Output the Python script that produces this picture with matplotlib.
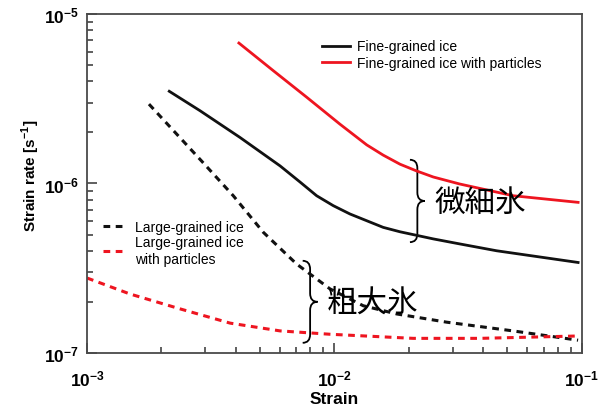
import numpy as np
import matplotlib.pyplot as plt
from matplotlib.path import Path
from matplotlib.patches import PathPatch
from matplotlib.ticker import FuncFormatter, NullFormatter, LogLocator

plt.rcParams['font.family'] = ['Liberation Sans', 'DejaVu Sans']
plt.rcParams['mathtext.fontset'] = 'custom'
plt.rcParams['mathtext.rm'] = 'Liberation Sans'
plt.rcParams['mathtext.bf'] = 'Liberation Sans:bold'

# strain vs. strain rate
fine_x = [2.15e-3, 2.86e-3, 4.15e-3, 6.03e-3, 7.26e-3, 8.47e-3, 9.89e-3, 1.155e-2, 1.35e-2,
          1.574e-2, 1.84e-2, 2.51e-2, 3.21e-2, 4.52e-2, 9.65e-2]
fine_y = [3.50e-6, 2.69e-6, 1.87e-6, 1.27e-6, 1.02e-6, 8.47e-7, 7.40e-7, 6.61e-7, 6.03e-7,
          5.51e-7, 5.19e-7, 4.71e-7, 4.40e-7, 4.01e-7, 3.42e-7]

fine_p_x = [4.11e-3, 5.66e-3, 7.72e-3, 1.052e-2, 1.35e-2, 1.574e-2, 1.84e-2, 2.15e-2, 2.51e-2,
            3.21e-2, 5.27e-2, 9.65e-2]
fine_p_y = [6.74e-6, 4.63e-6, 3.23e-6, 2.24e-6, 1.69e-6, 1.47e-6, 1.30e-6, 1.185e-6, 1.092e-6,
            9.93e-7, 8.47e-7, 7.74e-7]

large_x = [1.78e-3, 2.90e-3, 3.90e-3, 5.16e-3, 7.03e-3, 9.59e-3, 1.307e-2, 1.784e-2, 2.84e-2,
           5.27e-2, 9.65e-2]
large_y = [2.94e-6, 1.36e-6, 8.47e-7, 5.15e-7, 3.35e-7, 2.39e-7, 1.90e-7, 1.70e-7, 1.52e-7,
           1.35e-7, 1.19e-7]

large_p_x = [1.0e-3, 1.49e-3, 2.38e-3, 3.79e-3, 6.03e-3, 9.59e-3, 2.08e-2, 3.87e-2, 9.65e-2]
large_p_y = [2.77e-7, 2.23e-7, 1.82e-7, 1.50e-7, 1.35e-7, 1.29e-7, 1.22e-7, 1.22e-7, 1.26e-7]

RED = '#ee1520'
BLACK = '#111111'


def brace(ax, x0, w, y_top, y_bot, lw=1.3):
    # right-pointing curly brace in axes coordinates
    ym = (y_top + y_bot) / 2
    r = 0.025
    xc = x0 + w / 2
    verts = [(x0, y_top), (xc, y_top), (xc, y_top - r),
             (xc, ym + r),
             (xc, ym), (x0 + w, ym),
             (xc, ym), (xc, ym - r),
             (xc, y_bot + r),
             (xc, y_bot), (x0, y_bot)]
    codes = [Path.MOVETO, Path.CURVE3, Path.CURVE3,
             Path.LINETO,
             Path.CURVE3, Path.CURVE3,
             Path.CURVE3, Path.CURVE3,
             Path.LINETO,
             Path.CURVE3, Path.CURVE3]
    ax.add_patch(PathPatch(Path(verts, codes), transform=ax.transAxes,
                           fill=False, lw=lw, color='black', clip_on=False))


fig = plt.figure(figsize=(6.11, 4.10), dpi=100)
ax = fig.add_axes([0.1424, 0.1366, 0.81, 0.8268])

l1, = ax.plot(fine_x, fine_y, color=BLACK, lw=2.0, label='Fine-grained ice')
l2, = ax.plot(fine_p_x, fine_p_y, color=RED, lw=2.0, label='Fine-grained ice with particles')
l3, = ax.plot(large_x, large_y, color=BLACK, lw=2.2, dashes=(2.2, 1.8), label='Large-grained ice')
l4, = ax.plot(large_p_x, large_p_y, color=RED, lw=2.2, dashes=(2.2, 1.8),
              label='Large-grained ice\nwith particles')

ax.set_xscale('log')
ax.set_yscale('log')
ax.set_xlim(1e-3, 1e-1)
ax.set_ylim(1e-7, 1e-5)

fmt = FuncFormatter(lambda v, pos: r'$\mathbf{10^{%d}}$' % round(np.log10(v)))
for a in (ax.xaxis, ax.yaxis):
    a.set_major_locator(LogLocator(base=10, numticks=10))
    a.set_minor_locator(LogLocator(base=10, subs=np.arange(2, 10), numticks=10))
    a.set_major_formatter(fmt)
    a.set_minor_formatter(NullFormatter())

ax.tick_params(which='both', direction='in', top=False, right=False,
               color='#444444', width=1.2, labelsize=12.5)
ax.tick_params(which='major', length=7)
ax.tick_params(which='minor', length=4.5)
ax.tick_params(axis='x', pad=11)
ax.tick_params(axis='y', pad=6)
for s in ax.spines.values():
    s.set_color('#4a4a4a')
    s.set_linewidth(1.3)

ax.set_xlabel('Strain', fontsize=12.5, fontweight='bold', labelpad=2)
ax.set_ylabel(r'Strain rate [s$^{\mathbf{-1}}$]', fontsize=11, fontweight='bold')
ax.yaxis.set_label_coords(-0.09, 0.525)

leg1 = ax.legend(handles=[l1, l2], loc='upper left', bbox_to_anchor=(0.475, 0.925),
                 frameon=False, fontsize=10, handlelength=2.0, handletextpad=0.5,
                 labelspacing=0.2, borderpad=0, borderaxespad=0)
ax.add_artist(leg1)
ax.legend(handles=[l3, l4], loc='upper left', bbox_to_anchor=(0.032, 0.393),
          frameon=False, fontsize=10, handlelength=1.5, handletextpad=0.85,
          labelspacing=0.12, borderpad=0, borderaxespad=0)

brace(ax, 0.6525, 0.030, 0.570, 0.327)
brace(ax, 0.4358, 0.030, 0.272, 0.030)
cjk = ['Noto Sans CJK JP', 'DejaVu Sans']
ax.text(0.703, 0.445, '微細氷', transform=ax.transAxes, fontsize=22,
        family=cjk, va='center', ha='left')
ax.text(0.485, 0.150, '粗大氷', transform=ax.transAxes, fontsize=22,
        family=cjk, va='center', ha='left')

fig.savefig('out.png', dpi=100)
